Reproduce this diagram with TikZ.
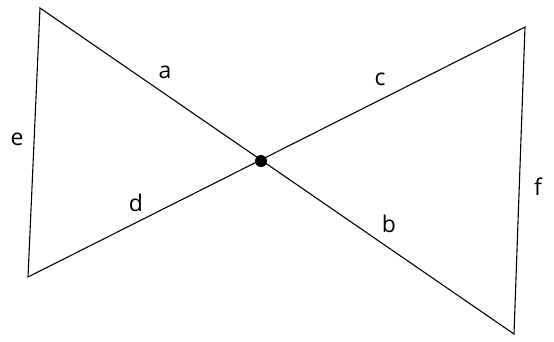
\documentclass[tikz,border=0pt]{standalone}
\usepackage{fontspec}
\setmainfont{Open Sans}
\begin{document}
\begin{tikzpicture}[x=1pt,y=-1pt,
  edge/.style={line width=1.1pt,black,line join=miter},
  lbl/.style={anchor=base,inner sep=0pt,font=\fontsize{23}{23}\selectfont}]
\useasboundingbox (0,0) rectangle (554,341);
\coordinate (A) at (40,8);
\coordinate (B) at (28,277);
\coordinate (C) at (525,27);
\coordinate (D) at (514,334);
\coordinate (O) at (261,161);
\draw[edge] (A) -- (B) -- (C) -- (D) -- cycle;
\node[circle,fill=black,inner sep=0pt,minimum size=12pt] (Odot) at (O) {};
\node[lbl] (la) at (165,78) {a};
\node[lbl] (lc) at (380,85) {c};
\node[lbl] (le) at (17,145) {e};
\node[lbl] (ld) at (136,211) {d};
\node[lbl] (lb) at (389,232) {b};
\node[lbl] (lf) at (538,195) {f};
\end{tikzpicture}
\end{document}
